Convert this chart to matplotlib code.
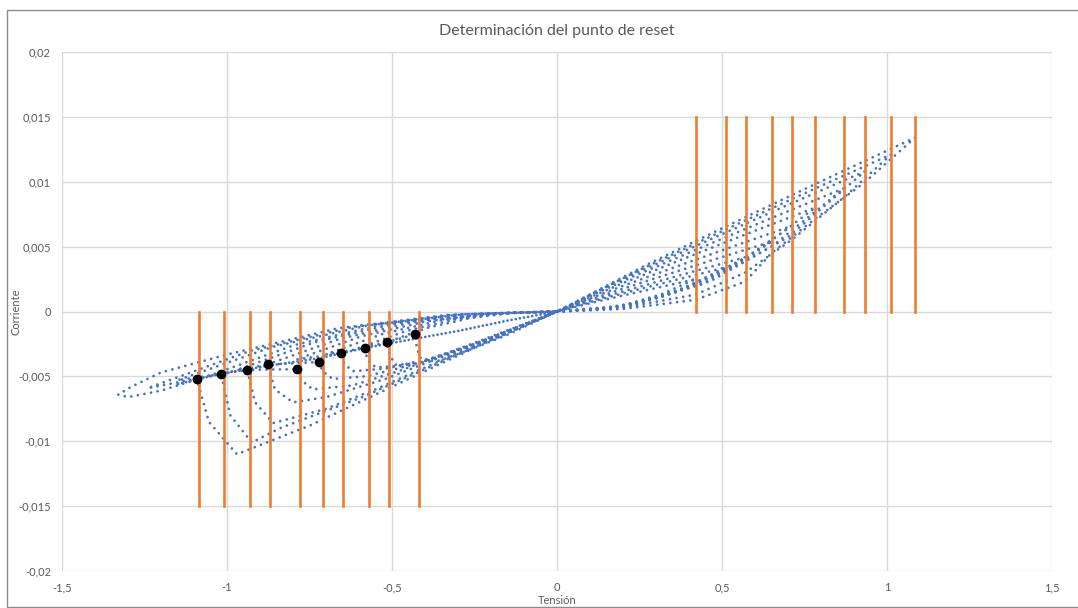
import matplotlib.pyplot as plt
from matplotlib.patches import Rectangle
from matplotlib.ticker import FuncFormatter

# reset / set amplitudes (orange markers)
neg_lines = [-1.085, -1.010, -0.931, -0.870, -0.779, -0.709, -0.649, -0.570, -0.509, -0.419]
pos_lines = [0.421, 0.512, 0.573, 0.652, 0.712, 0.782, 0.870, 0.933, 1.012, 1.085]

# reset points (black dots)
reset_v = [-1.091, -1.018, -0.939, -0.877, -0.789, -0.722, -0.655, -0.582, -0.515, -0.430]
reset_i = [-0.00523, -0.00482, -0.00451, -0.00407, -0.00445, -0.00389, -0.00322, -0.00281, -0.00237, -0.00176]

# I-V loops (voltage, current)
loop_1 = [(0, 0), (0.2, 0.0002), (0.42, 0.0009), (0.57, 0.0023), (0.65, 0.0045), (0.78, 0.0071),
          (0.93, 0.0099), (1.085, 0.0134),
          (0.814, 0.0102), (0.5425, 0.00693), (0.271, 0.00359), (0, 0),
          (-0.25, -0.0028), (-0.5, -0.0058), (-0.75, -0.0088), (-0.97, -0.0110),
          (-1.055, -0.0085), (-1.091, -0.00523), (-1.20, -0.0061), (-1.30, -0.0066),
          (-1.33, -0.0064), (-1.29, -0.0058), (-1.20, -0.0047),
          (-0.9975, -0.0033), (-0.665, -0.0013), (-0.3325, -0.00026), (0, 0)]
loop_2 = [(0, 0), (0.2, 0.0003), (0.42, 0.0013), (0.57, 0.0030), (0.71, 0.0055), (0.87, 0.0088),
          (1.012, 0.0121),
          (0.759, 0.00921), (0.506, 0.00626), (0.253, 0.00324), (0, 0),
          (-0.3, -0.0033), (-0.59, -0.0066), (-0.84, -0.0090), (-0.925, -0.0101),
          (-0.99, -0.0080), (-1.018, -0.00482), (-1.24, -0.0059),
          (-0.93, -0.00304), (-0.62, -0.0012), (-0.31, -0.00024), (0, 0)]
loop_3 = [(0, 0), (0.233, 0.00051), (0.4665, 0.00235), (0.700, 0.00573), (0.933, 0.0108),
          (0.700, 0.00822), (0.4665, 0.00558), (0.233, 0.00289), (0, 0),
          (-0.3, -0.0032), (-0.55, -0.0060), (-0.70, -0.0075), (-0.86, -0.0086),
          (-0.915, -0.0070), (-0.939, -0.00451), (-1.15, -0.0053),
          (-0.8625, -0.00273), (-0.575, -0.00108), (-0.2875, -0.00022), (0, 0)]
loop_4 = [(0, 0), (0.2175, 0.00045), (0.435, 0.00207), (0.6525, 0.00504), (0.870, 0.0095),
          (0.6525, 0.00723), (0.435, 0.00491), (0.2175, 0.00255), (0, 0),
          (-0.3, -0.0030), (-0.52, -0.0052), (-0.70, -0.0066), (-0.80, -0.0070),
          (-0.855, -0.0060), (-0.877, -0.00407), (-1.06, -0.0050),
          (-0.795, -0.00258), (-0.53, -0.00102), (-0.265, -0.00021), (0, 0)]
loop_5 = [(0, 0), (0.1955, 0.00038), (0.391, 0.00174), (0.5865, 0.00425), (0.782, 0.0080),
          (0.5865, 0.00609), (0.391, 0.00414), (0.1955, 0.00214), (0, 0),
          (-0.3, -0.0029), (-0.48, -0.0046), (-0.62, -0.0057), (-0.74, -0.0060),
          (-0.775, -0.0053), (-0.789, -0.00445), (-0.97, -0.0045),
          (-0.7275, -0.00232), (-0.485, -0.00091), (-0.2425, -0.00018), (0, 0)]
loop_6 = [(0, 0), (0.178, 0.00031), (0.356, 0.00144), (0.534, 0.0035), (0.712, 0.0066),
          (0.534, 0.00502), (0.356, 0.00341), (0.178, 0.00177), (0, 0),
          (-0.25, -0.0025), (-0.42, -0.0040), (-0.58, -0.0050), (-0.68, -0.0052),
          (-0.71, -0.0046), (-0.722, -0.00389), (-0.88, -0.0041),
          (-0.66, -0.00212), (-0.44, -0.00083), (-0.22, -0.00017), (0, 0)]
loop_7 = [(0, 0), (0.163, 0.00025), (0.326, 0.00118), (0.489, 0.00287), (0.652, 0.0054),
          (0.489, 0.00411), (0.326, 0.00279), (0.163, 0.00145), (0, 0),
          (-0.22, -0.0022), (-0.38, -0.0036), (-0.52, -0.0044), (-0.62, -0.0046),
          (-0.645, -0.0040), (-0.655, -0.00322), (-0.79, -0.0037),
          (-0.5925, -0.00191), (-0.395, -0.00075), (-0.1975, -0.00015), (0, 0)]
loop_8 = [(0, 0), (0.143, 0.0002), (0.2865, 0.00092), (0.430, 0.00223), (0.573, 0.0042),
          (0.430, 0.0032), (0.2865, 0.00217), (0.143, 0.00113), (0, 0),
          (-0.2, -0.0021), (-0.35, -0.0034), (-0.47, -0.0042), (-0.55, -0.0043),
          (-0.575, -0.0037), (-0.582, -0.00281), (-0.70, -0.0033),
          (-0.525, -0.0017), (-0.35, -0.00067), (-0.175, -0.00014), (0, 0)]
loop_9 = [(0, 0), (0.128, 0.00016), (0.256, 0.00074), (0.384, 0.00181), (0.512, 0.0034),
          (0.384, 0.00259), (0.256, 0.00176), (0.128, 0.00091), (0, 0),
          (-0.18, -0.0020), (-0.32, -0.0033), (-0.42, -0.0040), (-0.49, -0.0041),
          (-0.508, -0.0033), (-0.515, -0.00237), (-0.61, -0.0029),
          (-0.4575, -0.0015), (-0.305, -0.00059), (-0.1525, -0.00012), (0, 0)]
loop_10 = [(0, 0), (0.105, 0.00012), (0.2105, 0.00055), (0.316, 0.00133), (0.421, 0.0025),
           (0.316, 0.0019), (0.2105, 0.00129), (0.105, 0.00067), (0, 0),
           (-0.15, -0.0018), (-0.28, -0.0031), (-0.36, -0.0038), (-0.41, -0.0038),
           (-0.425, -0.0028), (-0.430, -0.00176), (-0.52, -0.0024),
           (-0.39, -0.00124), (-0.26, -0.00049), (-0.13, -0.0001), (0, 0)]
loops = [loop_1, loop_2, loop_3, loop_4, loop_5, loop_6, loop_7, loop_8, loop_9, loop_10]

# dense high-resistance band near the origin
hrs_v = [0, -0.15, -0.30, -0.43, -0.58, -0.72, -0.88, -1.02, -1.15]
hrs_i = [0, -0.0007, -0.0015, -0.0021, -0.0028, -0.0036, -0.0042, -0.0048, -0.0056]

blue = '#4472C4'
orange = '#ED7D31'
grey = '#595959'

plt.rcParams['font.family'] = ['Lato', 'DejaVu Sans']
fig = plt.figure(figsize=(10.78, 6.08), dpi=100)
fig.patches.append(Rectangle((7 / 1078, 1 / 608), 1.2, 1 - 11 / 608, transform=fig.transFigure,
                             fill=False, edgecolor='#8c8c8c', linewidth=1))
ax = fig.add_axes([62 / 1078, 1 - 571 / 608, 990 / 1078, 519 / 608])

for lp in loops:
    v = [p[0] for p in lp]
    i = [p[1] for p in lp]
    ax.plot(v, i, color=blue, linewidth=2.0, linestyle=(0, (0.01, 2.4)),
            dash_capstyle='round', zorder=2)
ax.plot(hrs_v, hrs_i, color=blue, linewidth=2.0, linestyle=(0, (0.01, 1.5)),
        dash_capstyle='round', zorder=2)

for x in neg_lines:
    ax.plot([x, x], [0, -0.015], color=orange, linewidth=1.9, zorder=3)
for x in pos_lines:
    ax.plot([x, x], [0, 0.015], color=orange, linewidth=1.9, zorder=3)

ax.plot(reset_v, reset_i, 'o', color='black', markersize=6, zorder=4)

ax.set_xlim(-1.5, 1.5)
ax.set_ylim(-0.02, 0.02)
ax.set_xticks([-1.5, -1, -0.5, 0, 0.5, 1, 1.5])
ax.set_yticks([-0.02, -0.015, -0.01, -0.005, 0, 0.005, 0.01, 0.015, 0.02])
fmt = FuncFormatter(lambda val, pos: ('%g' % round(val, 4)).replace('.', ','))
ax.xaxis.set_major_formatter(fmt)
ax.yaxis.set_major_formatter(fmt)
ax.tick_params(length=0, labelsize=8, labelcolor=grey, pad=8)
ax.grid(color='#d9d9d9', linewidth=1)
ax.set_axisbelow(True)
for s in ax.spines.values():
    s.set_visible(False)

ax.set_title('Determinación del punto de reset', fontsize=11.5, color=grey, pad=12)
ax.set_xlabel('Tensión', fontsize=8, color=grey, labelpad=1)
ax.set_ylabel('Corriente', fontsize=8, color=grey)
ax.yaxis.set_label_coords(-40 / 990, 0.5)

fig.savefig('out.png', dpi=100)
